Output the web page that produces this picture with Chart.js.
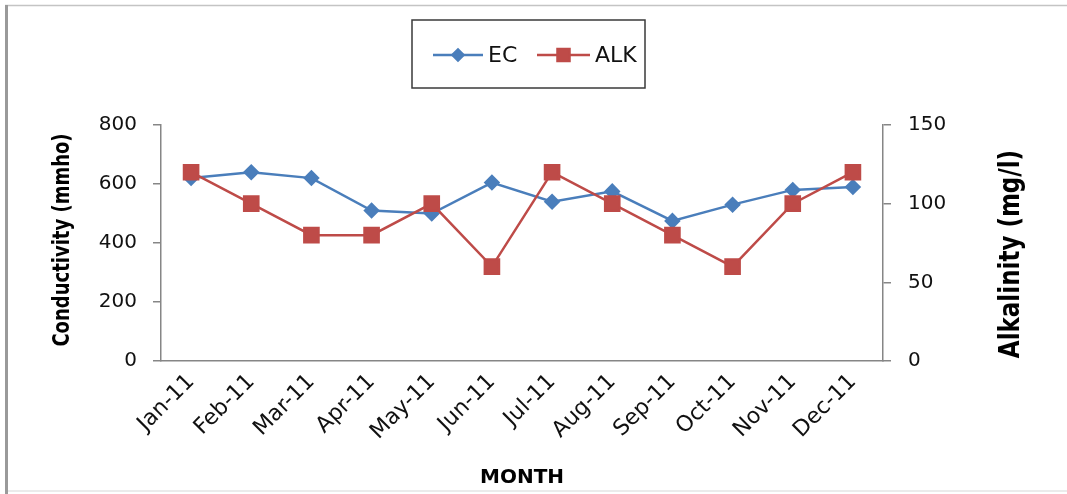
<!DOCTYPE html>
<html>
<head>
<meta charset="utf-8">
<script src="https://cdn.jsdelivr.net/npm/chart.js@4.4.0/dist/chart.umd.min.js"></script>
<style>
  html, body { margin: 0; padding: 0; background: #fff; }
  #wrap { width: 1067px; height: 494px; position: relative; }
</style>
</head>
<body>
<div id="wrap"><canvas id="chart" width="1067" height="494"></canvas></div>
<script>
// data
const months = ["Jan-11", "Feb-11", "Mar-11", "Apr-11", "May-11", "Jun-11",
                "Jul-11", "Aug-11", "Sep-11", "Oct-11", "Nov-11", "Dec-11"];
const ecValues = [620, 640, 620, 510, 500, 605, 540, 575, 475, 530, 580, 590];
const alkValues = [120, 100, 80, 80, 100, 60, 120, 100, 80, 60, 100, 120];
const ecTicks = [0, 200, 400, 600, 800];
const alkTicks = [0, 50, 100, 150];

const blue = "#4a7ebb";
const red = "#be4b48";
const axisGrey = "#868686";
const tickFont = { family: "DejaVu Sans", size: 20 };

// frame, legend box and vertical axis titles
const decorations = {
  id: "decorations",
  beforeDraw(chart) {
    const c = chart.ctx;
    c.save();
    c.fillStyle = "#fff";
    c.fillRect(0, 0, chart.width, chart.height);
    c.strokeStyle = "#c4c4c4";
    c.lineWidth = 1.5;
    c.beginPath(); c.moveTo(5, 5.5); c.lineTo(1067, 5.5); c.stroke();
    c.strokeStyle = "#e4e4e4";
    c.beginPath(); c.moveTo(5, 491); c.lineTo(1067, 491); c.stroke();
    c.strokeStyle = "#9a9a9a";
    c.lineWidth = 3;
    c.beginPath(); c.moveTo(6.5, 5); c.lineTo(6.5, 494); c.stroke();
    c.restore();
  },
  afterDraw(chart) {
    const c = chart.ctx;
    c.save();
    // legend
    c.strokeStyle = "#3a3a3a";
    c.lineWidth = 1.5;
    c.strokeRect(412, 20, 233, 68);
    const items = [
      { ds: chart.data.datasets[0], x1: 433, x2: 483, tx: 488 },
      { ds: chart.data.datasets[1], x1: 537, x2: 590, tx: 595 }
    ];
    items.forEach(it => {
      const y = 55;
      c.strokeStyle = it.ds.borderColor;
      c.lineWidth = 2.5;
      c.beginPath(); c.moveTo(it.x1, y); c.lineTo(it.x2, y); c.stroke();
      c.fillStyle = it.ds.pointBackgroundColor;
      c.strokeStyle = it.ds.pointBorderColor;
      Chart.helpers.drawPoint(c, {
        pointStyle: it.ds.pointStyle, radius: it.ds.pointRadius * 0.85,
        rotation: 0, borderWidth: 1
      }, (it.x1 + it.x2) / 2, y);
      c.fillStyle = "#111";
      c.font = "22px 'DejaVu Sans'";
      c.textAlign = "left";
      c.textBaseline = "middle";
      c.fillText(it.ds.label, it.tx, y + 1);
    });
    // axis titles, read bottom to top
    const drawTitle = (text, x, y, size) => {
      c.save();
      c.translate(x, y);
      c.rotate(-Math.PI / 2);
      c.scale(1, 1.25);
      c.fillStyle = "#000";
      c.font = "bold " + size + "px 'DejaVu Sans'";
      c.textAlign = "center";
      c.textBaseline = "middle";
      c.fillText(text, 0, 0);
      c.restore();
    };
    drawTitle("Conductivity (mmho)", 63, 240, 18);
    drawTitle("Alkalinity (mg/l)", 1012, 254, 23);
    c.restore();
  }
};

const ctx = document.getElementById("chart").getContext("2d");
const chart = new Chart(ctx, {
  type: "line",
  data: {
    labels: months,
    datasets: [
      {
        label: "EC",
        data: ecValues,
        yAxisID: "y",
        borderColor: blue,
        backgroundColor: blue,
        pointBackgroundColor: blue,
        pointBorderColor: blue,
        pointStyle: "rectRot",
        pointRadius: 6.5,
        borderWidth: 2.5,
        tension: 0,
        order: 1
      },
      {
        label: "ALK",
        data: alkValues,
        yAxisID: "y1",
        borderColor: red,
        backgroundColor: red,
        pointBackgroundColor: red,
        pointBorderColor: red,
        pointStyle: "rect",
        pointRadius: 10,
        borderWidth: 2.5,
        tension: 0,
        order: 0
      }
    ]
  },
  options: {
    responsive: false,
    animation: false,
    layout: { padding: { top: 125, left: 0, right: 0, bottom: 0 } },
    plugins: {
      legend: { display: false },
      tooltip: { enabled: false }
    },
    scales: {
      x: {
        type: "category",
        offset: true,
        grid: { display: false },
        border: { display: true, color: axisGrey, width: 1.5 },
        ticks: {
          font: { family: "DejaVu Sans", size: 22 },
          color: "#111",
          minRotation: 45,
          maxRotation: 45,
          padding: 0,
          autoSkip: false
        },
        title: {
          display: true,
          text: "MONTH",
          font: { family: "DejaVu Sans", size: 20, weight: "bold" },
          color: "#000",
          padding: { top: 0, bottom: 4 }
        },
        afterFit(s) { s.height = 133; }
      },
      y: {
        position: "left",
        min: 0,
        max: 800,
        afterBuildTicks(s) { s.ticks = ecTicks.map(v => ({ value: v })); },
        grid: { display: true, drawOnChartArea: false, drawTicks: true, tickLength: 8, color: axisGrey, lineWidth: 1.5 },
        border: { display: true, color: axisGrey, width: 1.5 },
        ticks: { font: tickFont, color: "#111", padding: 16 },
        afterFit(s) { s.width = 161; }
      },
      y1: {
        position: "right",
        min: 0,
        max: 150,
        afterBuildTicks(s) { s.ticks = alkTicks.map(v => ({ value: v })); },
        grid: { display: true, drawOnChartArea: false, drawTicks: true, tickLength: 8, color: axisGrey, lineWidth: 1.5 },
        border: { display: true, color: axisGrey, width: 1.5 },
        ticks: { font: tickFont, color: "#111", padding: 17 },
        afterFit(s) { s.width = 184; }
      }
    }
  },
  plugins: [decorations]
});
</script>
</body>
</html>
